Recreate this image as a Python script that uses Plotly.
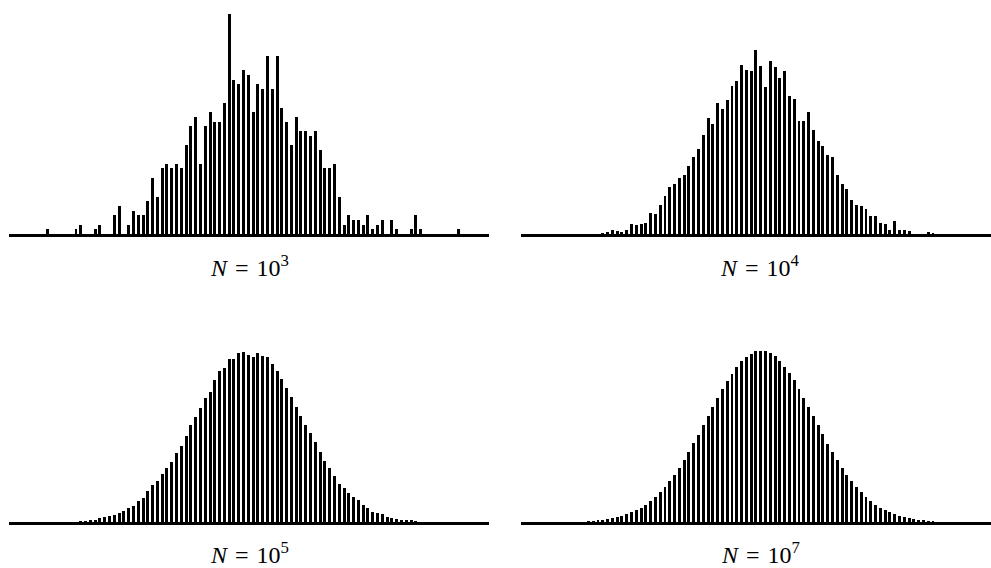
import plotly.graph_objects as go

# ---- data: histogram counts per bin (bin index j), four sample sizes ----
labels = ["<i>N</i>\u2004=\u200410<sup>3</sup>", "<i>N</i>\u2004=\u200410<sup>4</sup>",
          "<i>N</i>\u2004=\u200410<sup>5</sup>", "<i>N</i>\u2004=\u200410<sup>7</sup>"]
sample_sizes = [10**3, 10**4, 10**5, 10**7]

start_n3 = 8
counts_n3 = [1, 0, 0, 0, 0, 0, 1, 2, 0, 0,
             1, 2, 0, 0, 4, 6, 0, 2, 5, 4,
             4, 7, 12, 8, 14, 15, 14, 15, 14, 19,
             23, 25, 15, 23, 26, 24, 24, 28, 47, 33,
             32, 35, 34, 26, 32, 31, 38, 31, 38, 27,
             24, 19, 25, 22, 22, 21, 22, 18, 14, 14,
             15, 8, 2, 4, 3, 3, 2, 4, 1, 2,
             3, 0, 3, 1, 0, 0, 1, 4, 1, 0,
             0, 0, 0, 0, 0, 0, 1]

start_n4 = 15
counts_n4 = [1, 1, 2, 4, 9, 6, 5, 9, 21, 20,
             22, 23, 44, 43, 62, 81, 101, 107, 120, 125,
             146, 165, 182, 212, 248, 236, 280, 266, 287, 316,
             327, 361, 350, 349, 392, 358, 313, 369, 357, 333,
             349, 294, 289, 241, 241, 260, 222, 199, 188, 168,
             164, 125, 107, 97, 73, 62, 60, 53, 38, 38,
             24, 22, 9, 28, 9, 9, 6, 1, 1, 1,
             5, 3]

start_n5 = 15
counts_n5 = [21, 28, 36, 49, 85, 107, 122, 143, 199, 235,
             299, 342, 442, 519, 652, 790, 876, 1036, 1154, 1282,
             1480, 1617, 1844, 2072, 2250, 2429, 2649, 2771, 3040, 3226,
             3296, 3489, 3482, 3617, 3638, 3568, 3531, 3604, 3546, 3531,
             3375, 3219, 3055, 2856, 2670, 2450, 2271, 2072, 1901, 1709,
             1489, 1303, 1147, 983, 812, 716, 624, 534, 464, 357,
             299, 220, 199, 164, 113, 85, 70, 49, 43, 36,
             28]

start_n7 = 14
counts_n7 = [2136, 2884, 3845, 4913, 6409, 8118, 10468, 13031, 16450, 20508,
             25208, 30763, 37385, 45076, 53835, 64089, 74771, 87588, 100406, 115360,
             131810, 150182, 168127, 186499, 206580, 225807, 246315, 264901, 283487, 301218,
             316172, 330486, 343944, 351848, 359539, 365307, 365948, 365307, 360393, 354626,
             344585, 331127, 318309, 302714, 284769, 265542, 245675, 227089, 206580, 187353,
             167272, 149541, 131810, 116001, 100406, 86947, 74771, 63448, 53835, 45076,
             37385, 30763, 25208, 20508, 16450, 13031, 10468, 8118, 6409, 4913,
             3845, 2884, 2136]

starts = [start_n3, start_n4, start_n5, start_n7]
counts = [counts_n3, counts_n4, counts_n5, counts_n7]

# ---- layout geometry ----
W, H = 991, 568
left_dom = [9 / W, 489 / W]
right_dom = [520.7 / W, 1.0]
top_dom = [(H - 234) / H, (H - 4) / H]
bot_dom = [(H - 522) / H, (H - 292) / H]
x_range_left = [0, 100.29]
x_range_right = [-0.15, 98.12]
y_max = 0.04913

xdoms = [left_dom, right_dom, left_dom, right_dom]
ydoms = [top_dom, top_dom, bot_dom, bot_dom]
xranges = [x_range_left, x_range_right, x_range_left, x_range_right]

fig = go.Figure()
for i in range(4):
    xs = [starts[i] + k for k in range(len(counts[i]))]
    ys = [c / sample_sizes[i] for c in counts[i]]
    sfx = "" if i == 0 else str(i + 1)
    fig.add_trace(go.Bar(x=xs, y=ys, width=0.62,
                         marker=dict(color="black", line=dict(width=0)),
                         xaxis="x" + sfx, yaxis="y" + sfx,
                         showlegend=False, hoverinfo="skip"))
    fig.layout["xaxis" + sfx] = dict(domain=xdoms[i], range=xranges[i],
                                     anchor="y" + sfx, showline=True,
                                     linecolor="black", linewidth=2.5,
                                     showgrid=False, zeroline=False,
                                     showticklabels=False, ticks="",
                                     fixedrange=True)
    fig.layout["yaxis" + sfx] = dict(domain=ydoms[i], range=[0, y_max],
                                     anchor="x" + sfx, visible=False,
                                     showgrid=False, zeroline=False,
                                     fixedrange=True)

label_pos = [(249, 266), (760, 266), (249, 553), (760, 553)]
for i, (px, py) in enumerate(label_pos):
    fig.add_annotation(text=labels[i], xref="paper", yref="paper",
                       x=px / W, y=(H - py) / H, xanchor="center",
                       yanchor="middle", showarrow=False,
                       font=dict(family="Liberation Serif, Times New Roman, Times, serif",
                                 size=24, color="black"))

fig.update_layout(width=W, height=H, margin=dict(l=0, r=0, t=0, b=0),
                  paper_bgcolor="white", plot_bgcolor="white",
                  bargap=0)

fig.write_html("out.html",
               config={"displayModeBar": False, "staticPlot": True},
               post_script="document.body.style.margin='0';"
                           "document.body.style.overflow='hidden';")
